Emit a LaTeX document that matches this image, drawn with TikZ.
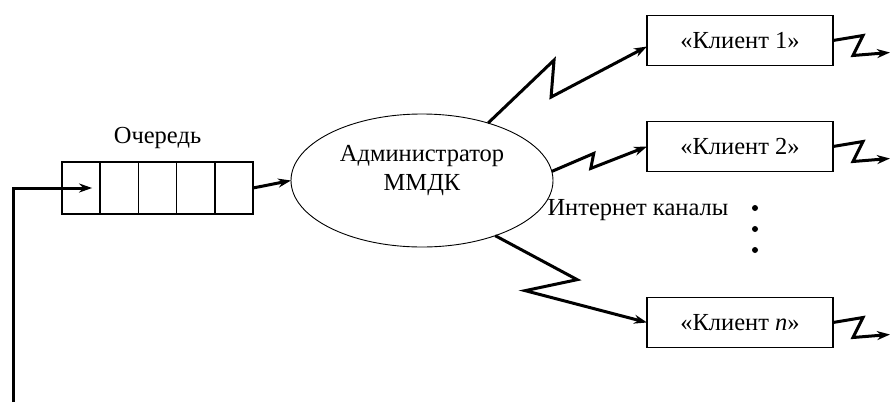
\documentclass[tikz,border=0pt]{standalone}
\usepackage{fontspec}
\setmainfont{Liberation Serif}
\usetikzlibrary{arrows.meta, shapes.geometric, positioning}

\begin{document}
\begin{tikzpicture}[x=1pt, y=-1pt,
		every node/.style = {font=\fontsize{24.5}{29}\selectfont},
		cell/.style = {draw, line width=1.5pt, minimum width=38.2pt, minimum height=52pt, inner sep=0pt, outer sep=0pt},
		client/.style = {draw, line width=1.5pt, minimum width=186pt, minimum height=50pt, outer sep=0pt},
		adm/.style = {draw, ellipse, line width=0.9pt, minimum width=262pt, minimum height=133pt, align=center, text depth=25pt, outer sep=0pt},
		link/.style = {draw, -{Stealth[length=13pt, width=9pt]}, line width=3pt, line join=miter}]
	\useasboundingbox (0,0) rectangle (890,402);
	% queue
	\node[cell] (q1) at (81.1,188) {};
	\foreach \i [count=\j from 1] in {2,...,5}
		\node[cell, right=0pt of q\j] (q\i) {};
	\node[above=10pt of q3] (qlabel) {Очередь};
	% administrator and clients
	\node[adm] (admin) at (422,180.5) {Администратор\\ММДК};
	\node[client] (k1) at (740,40.5) {«Клиент 1»};
	\node[client, below=56pt of k1] (k2) {«Клиент 2»};
	\node[client, below=126pt of k2] (kn) {«Клиент \textit{n}»};
	\node[anchor=west] (chan) at (544,210) {Интернет каналы};
	\foreach \y in {208,229,250}
		\fill (755,\y) circle (3pt);
	% connectors
	\coordinate (fb) at (13,402);
	\draw[link] (fb) |- ([xshift=11pt]q1.center);
	\draw[link] (q5.east) -- (admin.west);
	\draw[link] (admin.41) -- ++(66,-63) -- ++(-3,37) -- ([yshift=-6pt]k1.west);
	\draw[link] (admin.4) -- ++(42,-18) -- ++(-3,15) -- (k2.west);
	\draw[link] (admin.-37) -- ++(82,44) -- ++(-52,11) -- (kn.west);
	\foreach \k in {k1,k2,kn}
		\draw[link] (\k.east) -- ++(30,-5) -- ++(-10,20) -- ++(37,-3);
\end{tikzpicture}
\end{document}
